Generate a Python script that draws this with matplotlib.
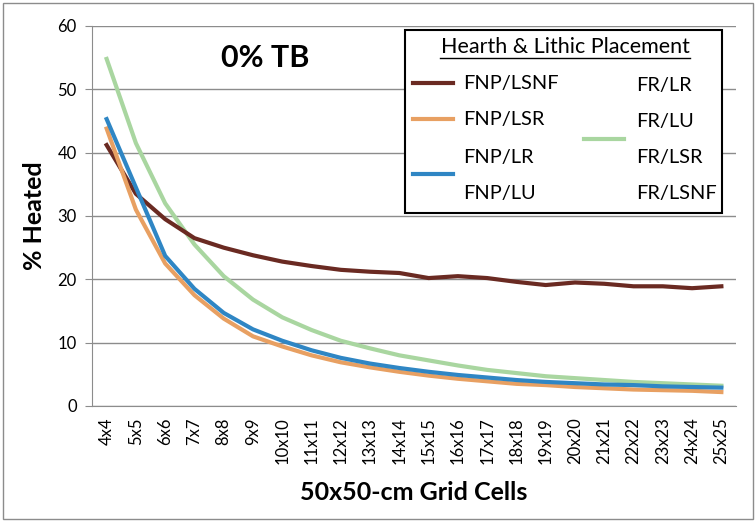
import numpy as np
import matplotlib
matplotlib.use('Agg')
import matplotlib.pyplot as plt
from matplotlib.lines import Line2D
from matplotlib.patches import Rectangle

# Categorias do eixo x
grades = ['{n}x{n}'.format(n=n) for n in range(4, 26)]

# Séries (% aquecido)
fnp_lsnf = [41.2, 33.5, 29.5, 26.5, 25.0, 23.8, 22.8, 22.1, 21.5, 21.2, 21.0,
            20.2, 20.5, 20.2, 19.6, 19.1, 19.5, 19.3, 18.9, 18.9, 18.6, 18.9]
fnp_lsr = [43.8, 31.0, 22.5, 17.5, 13.8, 11.0, 9.4, 8.0, 6.9, 6.1, 5.4,
           4.8, 4.3, 3.9, 3.5, 3.3, 3.0, 2.8, 2.6, 2.5, 2.4, 2.2]
fnp_lr_lu = [45.3, 34.5, 23.7, 18.5, 14.7, 12.1, 10.3, 8.8, 7.6, 6.7, 6.0,
             5.4, 4.9, 4.5, 4.1, 3.8, 3.6, 3.4, 3.3, 3.1, 3.0, 2.9]
fr_todos = [54.8, 41.5, 32.0, 25.5, 20.5, 16.8, 14.0, 12.0, 10.3, 9.1, 8.0,
            7.2, 6.4, 5.7, 5.2, 4.7, 4.4, 4.1, 3.8, 3.6, 3.4, 3.2]

COR_MARROM = '#6a2a22'
COR_LARANJA = '#e8a062'
COR_AZUL = '#2f86c4'
COR_VERDE = '#a9d6a0'
COR_GRADE = '#8c8c8c'

plt.rcParams['font.family'] = ['Lato', 'DejaVu Sans']

fig = plt.figure(figsize=(7.56, 5.22), dpi=100)
W, H = 756, 522
ax = fig.add_axes([92 / W, 1 - 406 / H, (736 - 92) / W, (406 - 26) / H])

x = np.arange(len(grades))
ax.plot(x, fr_todos, color=COR_VERDE, lw=3, solid_joinstyle='round', zorder=3)
ax.plot(x, fnp_lsnf, color=COR_MARROM, lw=3, solid_joinstyle='round', zorder=3)
ax.plot(x, fnp_lsr, color=COR_LARANJA, lw=3, solid_joinstyle='round', zorder=3)
ax.plot(x, fnp_lr_lu, color=COR_AZUL, lw=3, solid_joinstyle='round', zorder=3)

ax.set_xlim(-0.5, len(grades) - 0.5)
ax.set_ylim(0, 60)
ax.set_yticks(range(0, 61, 10))
ax.set_xticks(x)
ax.set_xticklabels(grades, rotation=90, fontsize=12)
ax.tick_params(axis='y', labelsize=12, length=5, color=COR_GRADE, pad=6)
ax.tick_params(axis='x', length=0, pad=8)
ax.grid(axis='y', color=COR_GRADE, lw=1)
ax.set_axisbelow(True)
for lado in ['top', 'right']:
    ax.spines[lado].set_visible(False)
for lado in ['left', 'bottom']:
    ax.spines[lado].set_color(COR_GRADE)

ax.set_ylabel('% Heated', fontsize=18, fontweight='bold', labelpad=8)
ax.set_xlabel('50x50-cm Grid Cells', fontsize=18, fontweight='bold', labelpad=12)

fig.text(265 / W, 1 - 58 / H, '0% TB', fontsize=22, fontweight='bold',
         ha='center', va='center')

# Legenda desenhada à mão (duas colunas como no Excel)
fig.patches.append(Rectangle((405 / W, 1 - 213 / H), (722 - 405) / W, (213 - 30) / H,
                             transform=fig.transFigure, facecolor='white',
                             edgecolor='black', lw=1.5, zorder=5))
fig.text(565 / W, 1 - 47 / H, 'Hearth & Lithic Placement', fontsize=15.5,
         ha='center', va='center', zorder=6)
fig.lines.append(Line2D([440 / W, 690 / W], [1 - 58 / H, 1 - 58 / H],
                        transform=fig.transFigure, color='black', lw=1, zorder=6))

itens = [
    (COR_MARROM, 413, 83, 463, ['FNP/LSNF'], [83]),
    (COR_LARANJA, 413, 119, 463, ['FNP/LSR'], [119]),
    (COR_AZUL, 413, 174, 463, ['FNP/LR', 'FNP/LU'], [157, 193]),
    (COR_VERDE, 584, 139, 636, ['FR/LR', 'FR/LU', 'FR/LSR', 'FR/LSNF'], [85, 121, 157, 193]),
]
for cor, x0, y0, xt, textos, ys in itens:
    fig.lines.append(Line2D([x0 / W, (x0 + 40) / W], [1 - y0 / H, 1 - y0 / H],
                            transform=fig.transFigure, color=cor, lw=3, zorder=6))
    for texto, yt in zip(textos, ys):
        fig.text(xt / W, 1 - yt / H, texto, fontsize=14.4, ha='left', va='center', zorder=6)

# Borda da área do gráfico
fig.patches.append(Rectangle((3 / W, 3 / H), 750 / W, 516 / H, transform=fig.transFigure,
                             facecolor='none', edgecolor=COR_GRADE, lw=1, zorder=0))

fig.savefig('out.png', dpi=100)
